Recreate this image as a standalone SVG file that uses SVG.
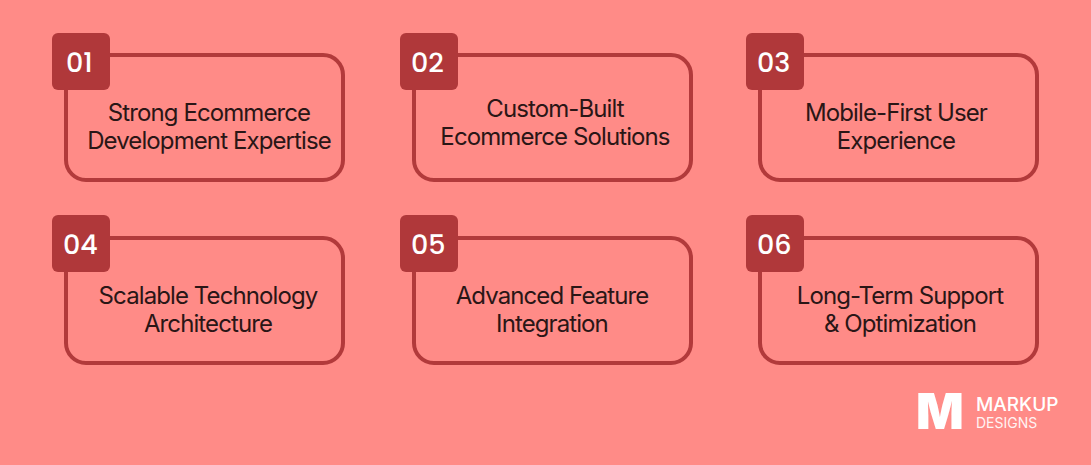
<svg xmlns="http://www.w3.org/2000/svg" width="1091" height="465" viewBox="0 0 1091 465">
<style>
.card{fill:none;stroke:#b23a3b;stroke-width:4}
.badge{fill:#b0383a}
.num{font-family:Poppins,"Open Sans",sans-serif;font-weight:500;font-size:27px;fill:#fff}
.t{font-family:Inter,"Open Sans",sans-serif;font-size:24px;fill:#2a1616;text-anchor:middle;letter-spacing:-0.9px}
</style>
<rect width="1091" height="465" fill="#ff8b87"/>
<g id="n1"><rect class="card" x="66" y="55" width="277" height="125" rx="20"/><rect class="badge" x="52" y="33" width="58" height="57" rx="6"/><text class="num" x="66" y="72">01</text><text class="t" x="209" y="121">Strong Ecommerce</text><text class="t" x="209" y="149">Development Expertise</text></g>
<g id="n2"><rect class="card" x="414" y="55" width="277" height="125" rx="20"/><rect class="badge" x="400" y="33" width="58" height="57" rx="6"/><text class="num" x="411" y="72">02</text><text class="t" x="555" y="117">Custom-Built</text><text class="t" x="555" y="145">Ecommerce Solutions</text></g>
<g id="n3"><rect class="card" x="760" y="55" width="277" height="125" rx="20"/><rect class="badge" x="746" y="33" width="58" height="57" rx="6"/><text class="num" x="757" y="72">03</text><text class="t" x="896" y="121">Mobile-First User</text><text class="t" x="896" y="149">Experience</text></g>
<g id="n4"><rect class="card" x="66" y="238" width="277" height="125" rx="20"/><rect class="badge" x="52" y="215" width="58" height="57" rx="6"/><text class="num" x="63" y="254">04</text><text class="t" x="208" y="304">Scalable Technology</text><text class="t" x="208" y="332">Architecture</text></g>
<g id="n5"><rect class="card" x="414" y="238" width="277" height="125" rx="20"/><rect class="badge" x="400" y="215" width="58" height="57" rx="6"/><text class="num" x="411" y="254">05</text><text class="t" x="552" y="304">Advanced Feature</text><text class="t" x="552" y="332">Integration</text></g>
<g id="n6"><rect class="card" x="760" y="238" width="277" height="125" rx="20"/><rect class="badge" x="746" y="215" width="58" height="57" rx="6"/><text class="num" x="757" y="254">06</text><text class="t" x="900" y="304">Long-Term Support</text><text class="t" x="900" y="332">&amp; Optimization</text></g>
<g id="logo" fill="#fff" font-family="Inter,sans-serif"><text x="916" y="429" font-size="50" font-weight="900">M</text><text x="976" y="411" font-size="19" font-weight="500">MARKUP</text><text x="976" y="428" font-size="14" opacity="0.9">DESIGNS</text></g>
<g id="connectors"/>
</svg>
